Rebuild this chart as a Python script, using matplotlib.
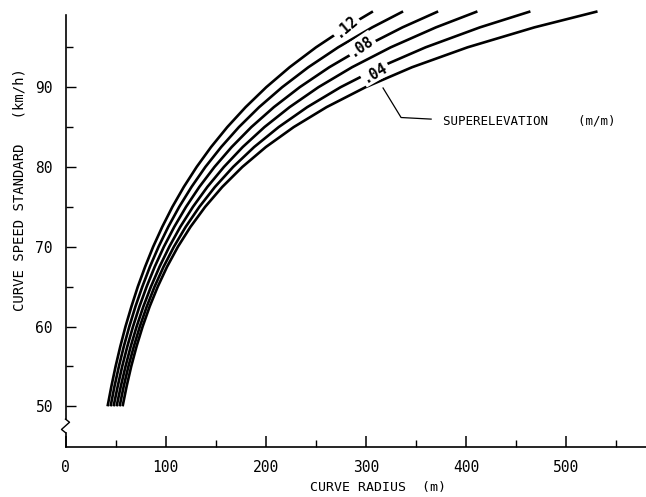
import matplotlib
matplotlib.use("Agg")
import matplotlib.pyplot as plt

# ---- data ----
speed = [50, 52.5, 55, 57.5, 60, 62.5, 65, 67.5, 70, 72.5, 75, 77.5, 80, 82.5,
         85, 87.5, 90, 92.5, 95, 97.5, 99.5]
radius_e12 = [42.0, 45.8, 50.0, 54.7, 59.9, 65.8, 72.2, 79.5, 87.5, 96.6, 106.7,
              118.1, 130.9, 145.3, 161.5, 179.8, 200.4, 223.7, 250.1, 280.1, 306.9]
radius_e10 = [45.0, 48.9, 53.3, 58.2, 63.7, 69.8, 76.7, 84.3, 92.9, 102.6, 113.5,
              125.8, 139.6, 155.4, 173.1, 193.3, 216.3, 242.4, 272.2, 306.2, 337.0]
radius_e08 = [48.0, 52.1, 56.6, 61.7, 67.4, 73.8, 81.0, 89.1, 98.2, 108.6, 120.3,
              133.6, 148.7, 165.9, 185.5, 208.0, 233.8, 263.3, 297.3, 336.4, 372.0]
radius_e06 = [51.0, 55.2, 59.9, 65.1, 71.0, 77.7, 85.3, 93.9, 103.6, 114.6, 127.2,
              141.6, 158.1, 176.9, 198.6, 223.7, 252.5, 286.0, 324.7, 369.8, 411.2]
radius_e04 = [54.0, 58.1, 62.8, 68.2, 74.2, 81.1, 88.9, 97.9, 108.2, 120.0, 133.6,
              149.2, 167.3, 188.3, 212.8, 241.3, 274.6, 313.6, 359.5, 413.7, 464.1]
radius_e02 = [57.0, 61.0, 65.6, 70.9, 77.0, 84.0, 92.1, 101.4, 112.2, 124.8, 139.4,
              156.5, 176.5, 200.0, 227.8, 260.6, 299.5, 345.9, 401.4, 468.1, 531.1]
curves = [radius_e12, radius_e10, radius_e08, radius_e06, radius_e04, radius_e02]

x_ticklabels = ["0", "100", "200", "300", "400", "500"]
y_ticklabels = ["50", "60", "70", "80", "90"]
curve_labels = [".12", ".08", ".04"]
curve_label_pos = [(280, 97.6, 40), (295, 95.2, 34), (309, 91.9, 30)]

MONO = "DejaVu Sans Mono"

W, H = 646, 497
fig = plt.figure(figsize=(W / 100, H / 100), dpi=100)
ax_left, ax_bottom_px, ax_top_px, ax_right = 65.5, 447, 15, 646
ax = fig.add_axes([ax_left / W, (H - ax_bottom_px) / H,
                   (ax_right - ax_left) / W, (ax_bottom_px - ax_top_px) / H])
ax.set_xlim(0, 579.5)
ax.set_ylim(44.9, 99.05)

for r in curves:
    ax.plot(r, speed, color="black", lw=1.9, clip_on=False, solid_capstyle="butt")

for txt, (x, y, rot) in zip(curve_labels, curve_label_pos):
    ax.text(x, y, txt, rotation=rot, ha="center", va="center", fontsize=10.5,
            family=MONO, fontweight="bold", rotation_mode="anchor",
            bbox=dict(boxstyle="square,pad=0.12", fc="white", ec="none"))

# leader to superelevation note
ax.plot([317, 335, 365], [89.9, 86.2, 86.0], color="black", lw=0.9)
ax.text(377, 85.8, "SUPERELEVATION    (m/m)", fontsize=9, va="center", ha="left",
        family=MONO)

# spines
for s in ["top", "right", "left"]:
    ax.spines[s].set_visible(False)
ax.spines["bottom"].set_linewidth(1.2)

# left axis with break mark
ax.plot([0, 0], [44.9, 46.7], color="black", lw=1.2, clip_on=False)
ax.plot([0, -4, 4, 0], [46.7, 47.1, 48.0, 48.4], color="black", lw=1.0, clip_on=False)
ax.plot([0, 0], [48.4, 99.05], color="black", lw=1.2, clip_on=False)

ax.set_xticks([0, 100, 200, 300, 400, 500])
ax.set_xticklabels(x_ticklabels, family=MONO)
ax.set_xticks([50, 150, 250, 350, 450, 550], minor=True)
ax.set_yticks([50, 60, 70, 80, 90])
ax.set_yticklabels(y_ticklabels, family=MONO)
ax.set_yticks([55, 65, 75, 85, 95], minor=True)
ax.tick_params(axis="x", which="major", direction="in", length=8, width=1.1,
               pad=9, labelsize=10.5)
ax.tick_params(axis="x", which="minor", direction="in", length=5, width=1.0)
ax.tick_params(axis="y", which="major", direction="in", length=7, width=1.0,
               pad=9, labelsize=10.5)
ax.tick_params(axis="y", which="minor", direction="in", length=5, width=1.0)

fig.text(378 / W, 1 - 488 / H, "CURVE RADIUS  (m)", ha="center", va="center",
         fontsize=9.5, family=MONO)
fig.text(20 / W, 1 - 190 / H, "CURVE SPEED STANDARD   (km/h)", ha="center",
         va="center", rotation=90, fontsize=10, family=MONO)

fig.savefig("out.png", dpi=100)
